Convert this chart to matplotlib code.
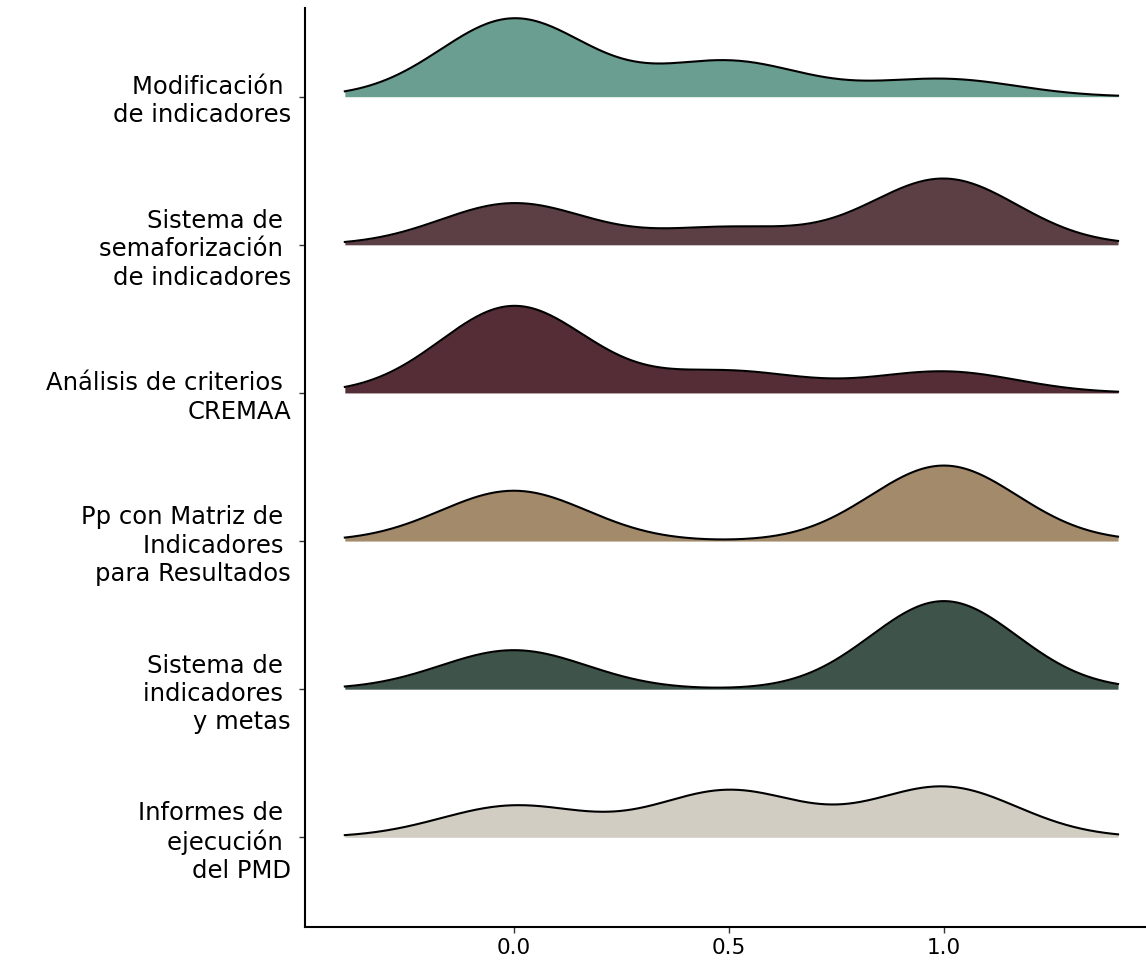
import numpy as np
import matplotlib
matplotlib.use("Agg")
import matplotlib.pyplot as plt

# categories, top to bottom as shown
labels = [
    "Modificación \nde indicadores",
    "Sistema de \nsemaforización \nde indicadores",
    "Análisis de criterios \nCREMAA",
    "Pp con Matriz de \nIndicadores \npara Resultados",
    "Sistema de \nindicadores \ny metas",
    "Informes de \nejecución \ndel PMD",
]
colors = ["#699e90", "#5c3f44", "#542d37", "#a38a6a", "#3e5349", "#d1cdc2"]

# share of answers at 0, 0.5 and 1 for each category
values = [0.0, 0.5, 1.0]
share_0 = [0.62, 0.33, 0.69, 0.40, 0.31, 0.25]
share_half = [0.28, 0.135, 0.17, 0.0, 0.0, 0.37]
share_1 = [0.14, 0.525, 0.17, 0.60, 0.70, 0.40]

bw = 0.17
scale = 0.362
x = np.linspace(-0.393, 1.405, 400)

plt.rcParams['font.family'] = ['DejaVu Sans']
fig = plt.figure(figsize=(11.46, 9.6), dpi=100)
ax = fig.add_axes([0.266, 0.034, 0.734, 0.958])

n = len(labels)
for i in range(n):
    base = n - 1 - i
    shares = [share_0[i], share_half[i], share_1[i]]
    dens = np.zeros_like(x)
    for v, s in zip(values, shares):
        dens += s * np.exp(-0.5 * ((x - v) / bw) ** 2) / (bw * np.sqrt(2 * np.pi))
    y = base + dens * scale
    ax.fill_between(x, base, y, color=colors[i], lw=0, zorder=2 * i)
    ax.plot(x, y, color="black", lw=1.5, zorder=2 * i + 1)

ax.set_xlim(-0.486, 1.47)
ax.set_ylim(-0.608, 5.601)
ax.set_xticks([0.0, 0.5, 1.0])
ax.set_xticklabels(["0.0", "0.5", "1.0"])
ax.set_yticks(range(n - 1, -1, -1))
ax.set_yticklabels(labels, fontsize=17.5, linespacing=1.22)
ax.tick_params(axis="x", labelsize=15.5, length=4, width=1, color="#333333", pad=4)
ax.tick_params(axis="y", length=4, width=1, color="#333333", pad=6)
for s in ["top", "right"]:
    ax.spines[s].set_visible(False)
for s in ["left", "bottom"]:
    ax.spines[s].set_linewidth(1.5)
    ax.spines[s].set_color("black")

fig.savefig("out.png", dpi=100)
